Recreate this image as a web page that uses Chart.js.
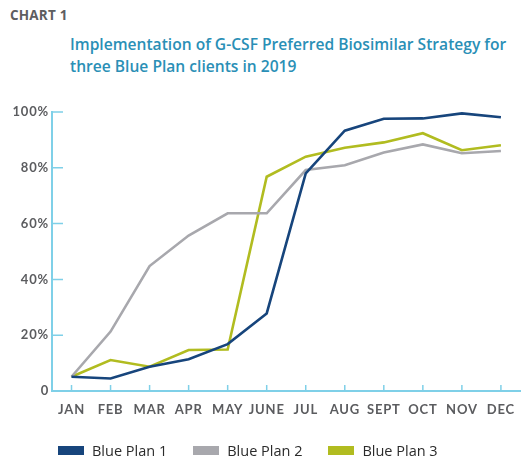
<!DOCTYPE html>
<html>
<head>
<meta charset="utf-8">
<script src="https://cdn.jsdelivr.net/npm/chart.js@4.4.1/dist/chart.umd.min.js"></script>
<style>
  html, body { margin: 0; padding: 0; background: #fff; overflow: hidden; }
  body { width: 521px; height: 456px; position: relative; font-family: 'Open Sans', sans-serif; }
  #kicker { position: absolute; left: 10px; top: 6px; font: bold 13.5px 'Open Sans', sans-serif; color: #5d5e61; letter-spacing: 0.2px; }
  #title { position: absolute; left: 70px; top: 33px; font: 600 15.6px/22px 'Open Sans', sans-serif; color: #2a8fb6; width: 460px; }
  #wrap { position: absolute; left: 0; top: 0; width: 526px; height: 456px; }
  #legend { position: absolute; left: 58px; top: 441px; display: flex; font: 14.5px 'Open Sans', sans-serif; color: #2b2b2b; }
  .item { display: flex; align-items: center; margin-right: 26px; }
  .box { width: 26px; height: 9px; margin-right: 8px; }
</style>
</head>
<body>
<div id="kicker">CHART 1</div>
<div id="title">Implementation of G-CSF Preferred Biosimilar Strategy for<br>three Blue Plan clients in 2019</div>
<div id="wrap"><canvas id="chart" width="526" height="456"></canvas></div>
<div id="legend"></div>
<script>
const months = ['JAN', 'FEB', 'MAR', 'APR', 'MAY', 'JUNE', 'JUL', 'AUG', 'SEPT', 'OCT', 'NOV', 'DEC'];
const plan1 = [5.1, 4.5, 8.7, 11.4, 16.8, 27.8, 78.0, 93.3, 97.6, 97.7, 99.5, 98.1];
const plan2 = [5.1, 21.3, 44.8, 55.7, 63.7, 63.7, 79.2, 80.9, 85.5, 88.4, 85.2, 86.0];
const plan3 = [5.1, 11.1, 8.7, 14.7, 14.9, 76.8, 84.0, 87.2, 89.1, 92.4, 86.3, 88.1];
const yTicks = [0, 20, 40, 60, 80, 100];

const axisColor = '#7fd0e8';
const tickFont = { family: 'Lato', size: 13, weight: 'bold' };

// wider tracking on the axis labels, like the original
const tracking = {
    id: 'tracking',
    beforeLayout(chart) { chart.ctx.letterSpacing = '0.8px'; },
    beforeDraw(chart) { chart.ctx.letterSpacing = '0.8px'; }
};

// short inward tick marks on both axes
const innerTicks = {
    id: 'innerTicks',
    afterDraw(chart) {
        const { ctx, scales: { x, y } } = chart;
        ctx.save();
        ctx.strokeStyle = axisColor;
        ctx.lineWidth = 1.5;
        ctx.beginPath();
        x.ticks.forEach((t, i) => {
            const px = x.getPixelForTick(i);
            ctx.moveTo(px, x.top);
            ctx.lineTo(px, x.top - 6);
        });
        y.ticks.forEach((t, i) => {
            if (t.value === 0) return;
            const py = y.getPixelForTick(i);
            ctx.moveTo(y.right, py);
            ctx.lineTo(y.right + 11, py);
        });
        ctx.stroke();
        ctx.restore();
    }
};

const chart = new Chart(document.getElementById('chart'), {
    type: 'line',
    data: {
        labels: months,
        datasets: [
            { label: 'Blue Plan 1', data: plan1, borderColor: '#17457c', backgroundColor: '#17457c' },
            { label: 'Blue Plan 2', data: plan2, borderColor: '#a8a8ad', backgroundColor: '#a8a8ad' },
            { label: 'Blue Plan 3', data: plan3, borderColor: '#b1bc20', backgroundColor: '#b1bc20' }
        ]
    },
    options: {
        responsive: false,
        animation: false,
        layout: { padding: { top: 112, bottom: 35, left: 0, right: 0 } },
        elements: {
            line: { borderWidth: 2.6, tension: 0 },
            point: { radius: 0, hoverRadius: 0 }
        },
        plugins: { legend: { display: false }, tooltip: { enabled: false } },
        scales: {
            x: {
                offset: true,
                grid: { display: false, drawTicks: false },
                border: { display: true, color: axisColor, width: 2 },
                ticks: { color: '#5b5c5f', font: tickFont, padding: 11, maxRotation: 0, autoSkip: false },
                afterFit: s => { s.height = 30; }
            },
            y: {
                min: 0, max: 100,
                afterBuildTicks: s => { s.ticks = yTicks.map(v => ({ value: v })); },
                grid: { display: false, drawTicks: false },
                border: { display: true, color: axisColor, width: 2 },
                ticks: { color: '#5b5c5f', font: tickFont, padding: 3, callback: v => v === 0 ? '0' : v + '%' },
                afterFit: s => { s.width = 52; }
            }
        }
    },
    plugins: [tracking, innerTicks]
});

const legend = document.getElementById('legend');
chart.data.datasets.forEach(ds => {
    const item = document.createElement('div');
    item.className = 'item';
    item.innerHTML = `<span class="box" style="background:${ds.borderColor}"></span><span>${ds.label}</span>`;
    legend.appendChild(item);
});
</script>
</body>
</html>
